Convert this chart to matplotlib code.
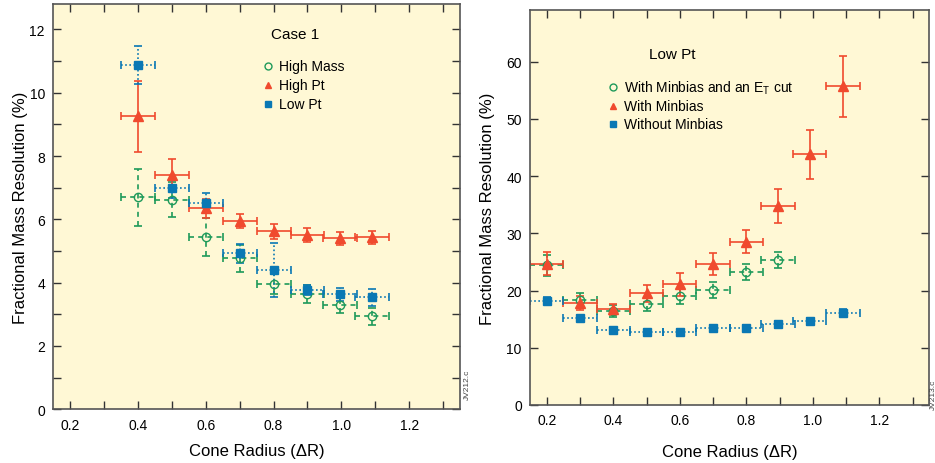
import matplotlib.pyplot as plt
from matplotlib.ticker import MultipleLocator

plt.rcParams['font.family'] = ['Liberation Sans', 'DejaVu Sans']

# ---- left panel: Case 1 ----
hm_x = [0.40, 0.50, 0.60, 0.70, 0.80, 0.90, 0.995, 1.09]
hm_y = [6.70, 6.62, 5.43, 4.77, 3.95, 3.63, 3.30, 2.94]
hm_e = [0.90, 0.55, 0.60, 0.42, 0.32, 0.28, 0.25, 0.27]

hp_x = [0.40, 0.50, 0.60, 0.70, 0.80, 0.90, 0.995, 1.09]
hp_y = [9.25, 7.39, 6.35, 5.94, 5.62, 5.50, 5.40, 5.43]
hp_e = [1.13, 0.50, 0.30, 0.22, 0.23, 0.22, 0.20, 0.20]

lp_x = [0.40, 0.50, 0.60, 0.70, 0.80, 0.90, 0.995, 1.09]
lp_y = [10.87, 6.98, 6.53, 4.93, 4.39, 3.76, 3.63, 3.54]
lp_e = [0.60, 0.30, 0.30, 0.30, 0.85, 0.15, 0.20, 0.27]

# ---- right panel: Low Pt ----
et_x = [0.20, 0.30, 0.40, 0.50, 0.60, 0.70, 0.80, 0.895]
et_y = [24.4, 18.3, 16.4, 17.6, 19.0, 20.1, 23.2, 25.3]
et_e = [1.8, 1.2, 1.0, 1.2, 1.3, 1.4, 1.4, 1.4]

mb_x = [0.20, 0.30, 0.40, 0.50, 0.60, 0.70, 0.80, 0.895, 0.99, 1.09]
mb_y = [24.7, 17.8, 16.7, 19.5, 21.1, 24.6, 28.5, 34.8, 43.8, 55.7]
mb_e = [2.0, 1.2, 1.0, 1.5, 2.0, 1.9, 2.0, 3.0, 4.3, 5.3]

nm_x = [0.20, 0.30, 0.40, 0.50, 0.60, 0.70, 0.80, 0.895, 0.99, 1.09]
nm_y = [18.2, 15.2, 13.1, 12.7, 12.8, 13.4, 13.4, 14.1, 14.6, 16.1]
nm_e = [0.6, 0.6, 0.5, 0.5, 0.5, 0.5, 0.5, 0.6, 0.6, 0.6]

dx = 0.05

green = '#1e9a5a'
red = '#f04a2e'
blue = '#0a78b4'
bg = '#fff8d5'
frame = '#555555'

fig = plt.figure(figsize=(9.35, 4.64), dpi=100)
ax1 = fig.add_axes([0.057, 0.116, 0.435, 0.873])
ax2 = fig.add_axes([0.567, 0.125, 0.427, 0.851])


def series(ax, x, y, e, color, ls, marker, mfc, ms):
    eb = ax.errorbar(x, y, yerr=e, xerr=dx, fmt='none', ecolor=color,
                     elinewidth=1.2, capsize=3, capthick=1.2, zorder=2)
    for lc in eb[2]:
        lc.set_linestyle(ls)
    ax.plot(x, y, linestyle='None', marker=marker, color=color, mfc=mfc,
            mec=color, ms=ms, mew=1.0, zorder=3)


def style(ax, ylim, ymaj, ymin, ypad, xpad):
    ax.set_facecolor(bg)
    ax.set_xlim(0.15, 1.35)
    ax.set_ylim(*ylim)
    ax.xaxis.set_major_locator(MultipleLocator(0.2))
    ax.xaxis.set_minor_locator(MultipleLocator(0.1))
    ax.yaxis.set_major_locator(MultipleLocator(ymaj))
    if ymin:
        ax.yaxis.set_minor_locator(MultipleLocator(ymin))
    ax.tick_params(which='both', direction='in', top=True, right=True,
                   length=6, width=1.0, color='#333333', labelsize=10,
                   pad=6)
    ax.xaxis.set_major_formatter(plt.FuncFormatter(lambda v, p: '%.1f' % v))
    for s in ax.spines.values():
        s.set_color(frame)
        s.set_linewidth(1.2)
    ax.set_xlabel('Cone Radius (\u0394R)', fontsize=12, labelpad=xpad)
    ax.set_ylabel('Fractional Mass Resolution (%)', fontsize=12, labelpad=ypad)


series(ax1, hm_x, hm_y, hm_e, green, (0, (3, 2.5)), 'o', 'none', 6)
series(ax1, hp_x, hp_y, hp_e, red, '-', '^', red, 7)
series(ax1, lp_x, lp_y, lp_e, blue, (0, (1, 1.5)), 's', blue, 6)
style(ax1, (0, 12.8), 2, 1, 1, 8.5)
ax1.text(0.595, 0.925, 'Case 1', transform=ax1.transAxes, ha='center',
         va='center', fontsize=11)

series(ax2, et_x, et_y, et_e, green, (0, (3, 2.5)), 'o', 'none', 6)
series(ax2, mb_x, mb_y, mb_e, red, '-', '^', red, 7)
series(ax2, nm_x, nm_y, nm_e, blue, (0, (1, 1.5)), 's', blue, 6)
style(ax2, (0, 69), 10, None, 8, 12)
ax2.text(0.355, 0.89, 'Low Pt', transform=ax2.transAxes, ha='center',
         va='center', fontsize=11)

# legends drawn as marker + text
leg1 = [('o', green, 'none', 'High Mass'),
        ('^', red, red, 'High Pt'),
        ('s', blue, blue, 'Low Pt')]
for i, (m, c, f, lab) in enumerate(leg1):
    yy = 0.847 - i * 0.047
    ax1.plot([0.528], [yy], transform=ax1.transAxes, marker=m, color=c,
             mfc=f, mec=c, ms=5, linestyle='None')
    ax1.text(0.555, yy, lab, transform=ax1.transAxes, va='center',
             fontsize=10)

leg2 = [('o', green, 'none', 'With Minbias and an E$_\\mathregular{T}$ cut'),
        ('^', red, red, 'With Minbias'),
        ('s', blue, blue, 'Without Minbias')]
for i, (m, c, f, lab) in enumerate(leg2):
    yy = 0.805 - i * 0.047
    ax2.plot([0.207], [yy], transform=ax2.transAxes, marker=m, color=c,
             mfc=f, mec=c, ms=5, linestyle='None')
    ax2.text(0.235, yy, lab, transform=ax2.transAxes, va='center',
             fontsize=10)

fig.text(0.500, 0.17, 'JV212.c', rotation=90, fontsize=6, color='#444444',
         ha='center', va='center')
fig.text(0.998, 0.15, 'JV213.c', rotation=90, fontsize=6, color='#444444',
         ha='center', va='center')

fig.savefig('out.png', dpi=100)
